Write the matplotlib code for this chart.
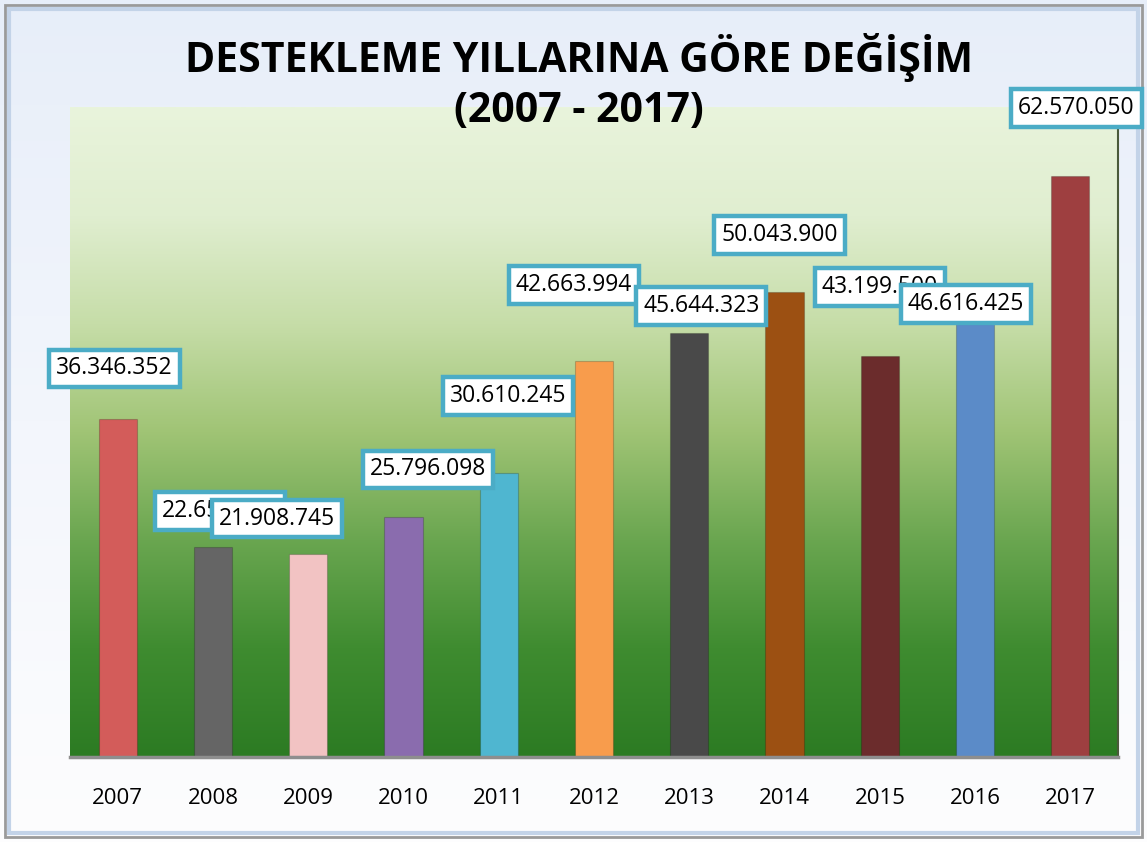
import numpy as np
import matplotlib.pyplot as plt
from matplotlib.colors import LinearSegmentedColormap
from matplotlib.patches import Rectangle

plt.rcParams['font.family'] = ['Open Sans', 'DejaVu Sans']

# Değerler
years = ["2007", "2008", "2009", "2010", "2011", "2012",
         "2013", "2014", "2015", "2016", "2017"]
values = [36346352, 22650000, 21908745, 25796098, 30610245, 42663994,
          45644323, 50043900, 43199500, 46616425, 62570050]
labels = ["36.346.352", "22.650.000", "21.908.745", "25.796.098", "30.610.245",
          "42.663.994", "45.644.323", "50.043.900", "43.199.500", "46.616.425",
          "62.570.050"]
colors = ["#D35C5A", "#656565", "#F2C3C3", "#8A6CAE", "#4FB6D0", "#F89C4C",
          "#494949", "#9C5012", "#6B2C2C", "#5B8BC8", "#9E3F40"]

# etiket kaymaları (piksel, çubuk tepesine göre) - Excel'de elle yerleştirilmiş
label_dx = [-3, 7, -31, 25, 9, -20, 12, -5, 0, -9, 6]
label_dy = [51, 36, 35, 48, 77, 76, 27, 57, 69, 20, 68]

W, H = 1147, 842
fig = plt.figure(figsize=(W / 100, H / 100), dpi=100)

# arka plan çerçevesi
bg = fig.add_axes([0, 0, 1, 1], zorder=-10)
bg_cmap = LinearSegmentedColormap.from_list("bg", ["#E7EEF9", "#F3F6FC", "#FDFDFE"])
bg.imshow(np.linspace(0, 1, 256).reshape(-1, 1), aspect="auto", cmap=bg_cmap,
          extent=[0, 1, 0, 1])
bg.add_patch(Rectangle((5 / W, 5 / H), 1 - 10 / W, 1 - 10 / H, fill=False,
                       edgecolor="#9A9A9A", lw=2))
bg.add_patch(Rectangle((9 / W, 9 / H), 1 - 18 / W, 1 - 18 / H, fill=False,
                       edgecolor="#C3D3E8", lw=3))
bg.set_xlim(0, 1)
bg.set_ylim(0, 1)
bg.axis("off")

ax = fig.add_axes([70 / W, 1 - 757 / H, 1048 / W, 650 / H])
x = np.arange(len(years))
ax.set_xlim(-0.5, len(years) - 0.5)
ax.set_ylim(0, 70000000)

# yeşil gradyan
green = LinearSegmentedColormap.from_list(
    "g", ["#2C7B23", "#3F8C30", "#6AA650", "#A0C475", "#C6DDA8", "#E0EED0", "#E9F4DC"])
ax.imshow(np.linspace(0, 1, 256).reshape(-1, 1), aspect="auto", cmap=green,
          extent=[-0.5, len(years) - 0.5, 0, 70000000], origin="lower", zorder=0)

ax.bar(x, values, width=0.4, color=colors, edgecolor="#00000030", lw=0.8, zorder=2)

for i in range(len(years)):
    ax.annotate(labels[i], xy=(x[i], values[i]),
                xytext=(label_dx[i] * 0.72, label_dy[i] * 0.72),
                textcoords="offset points", ha="center", va="center",
                fontsize=16.5, color="black", zorder=5 + i,
                bbox=dict(boxstyle="square,pad=0.3", fc="white", ec="#4BACC6", lw=3.2))

ax.set_xticks(x)
ax.set_xticklabels(years, fontsize=16)
ax.tick_params(axis="x", length=0, pad=22)
ax.set_yticks([])
for s in ["top", "left"]:
    ax.spines[s].set_visible(False)
ax.spines["right"].set_color("#4A5A3A")
ax.spines["right"].set_linewidth(1.5)
ax.spines["bottom"].set_color("#8E8E8E")
ax.spines["bottom"].set_linewidth(2.5)

fig.text(0.505, 1 - 57 / H, "DESTEKLEME YILLARINA GÖRE DEĞİŞİM", ha="center",
         va="center", fontsize=29.5, fontweight="bold")
fig.text(0.505, 1 - 112 / H, "(2007 - 2017)", ha="center", va="center",
         fontsize=29.5, fontweight="bold")

fig.savefig("out.png", dpi=100)
